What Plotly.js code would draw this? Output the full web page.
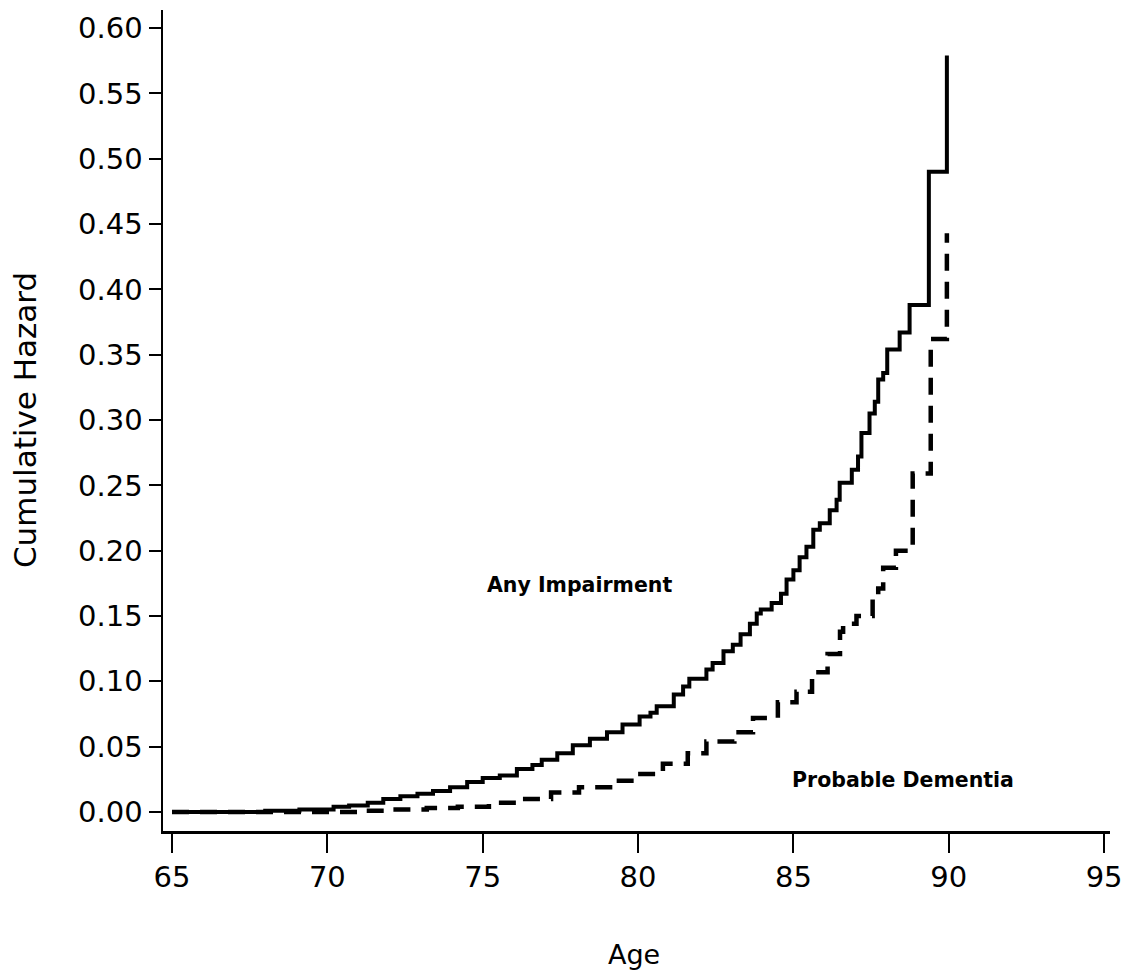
<!DOCTYPE html>
<html>
<head>
<meta charset="utf-8">
<script src="https://cdn.plot.ly/plotly-3.0.1.min.js"></script>
<style>
  html, body { margin: 0; padding: 0; background: #ffffff; }
  #chart { width: 1126px; height: 979px; }
</style>
</head>
<body>
<div id="chart"></div>
<script>
// Any Impairment – cumulative hazard (step function)
const anyAge = [65.0, 67.0, 68.0, 69.1, 70.2, 70.7, 71.3, 71.8, 72.35, 72.9, 73.4, 73.95, 74.5, 75.0, 75.55, 76.1, 76.6, 76.9, 77.4, 77.9, 78.45, 79.0, 79.5, 80.05, 80.4, 80.6, 81.15, 81.45, 81.65, 82.2, 82.4, 82.75, 83.05, 83.3, 83.6, 83.82, 83.95, 84.3, 84.6, 84.78, 85.0, 85.2, 85.42, 85.64, 85.85, 86.17, 86.39, 86.49, 86.88, 87.08, 87.19, 87.45, 87.62, 87.73, 87.89, 88.02, 88.42, 88.74, 89.36, 89.94];
const anyHaz = [0.000, 0.000, 0.001, 0.002, 0.004, 0.005, 0.007, 0.010, 0.012, 0.014, 0.016, 0.019, 0.023, 0.026, 0.028, 0.033, 0.036, 0.040, 0.045, 0.051, 0.056, 0.061, 0.067, 0.073, 0.076, 0.081, 0.090, 0.096, 0.102, 0.109, 0.114, 0.123, 0.128, 0.136, 0.144, 0.152, 0.155, 0.160, 0.167, 0.178, 0.185, 0.195, 0.203, 0.216, 0.221, 0.231, 0.239, 0.252, 0.262, 0.272, 0.290, 0.305, 0.314, 0.331, 0.336, 0.354, 0.367, 0.388, 0.490, 0.579];

// Probable Dementia – cumulative hazard (step function)
const demAge = [65.0, 68.0, 69.7, 71.0, 72.1, 73.2, 74.2, 75.2, 76.2, 77.2, 78.1, 79.1, 80.0, 80.8, 81.6, 82.2, 83.1, 83.7, 84.5, 85.1, 85.6, 86.1, 86.5, 86.6, 87.03, 87.55, 87.73, 87.89, 88.30, 88.84, 89.42, 89.94];
const demHaz = [0.000, 0.000, 0.000, 0.001, 0.002, 0.003, 0.004, 0.007, 0.010, 0.015, 0.019, 0.024, 0.029, 0.037, 0.045, 0.054, 0.061, 0.072, 0.084, 0.092, 0.107, 0.121, 0.138, 0.144, 0.150, 0.165, 0.171, 0.187, 0.200, 0.259, 0.362, 0.443];

const xTicks = [65, 70, 75, 80, 85, 90, 95];
const yTicks = [0.00, 0.05, 0.10, 0.15, 0.20, 0.25, 0.30, 0.35, 0.40, 0.45, 0.50, 0.55, 0.60];

const labelAny = "Any Impairment";
const labelDem = "Probable Dementia";
const xTitle = "Age";
const yTitle = "Cumulative Hazard";

const FONT = "DejaVu Sans, Verdana, sans-serif";

const traces = [
  {
    x: anyAge, y: anyHaz, type: "scatter", mode: "lines", name: labelAny,
    line: { color: "#000000", width: 4, shape: "hv" }
  },
  {
    x: demAge, y: demHaz, type: "scatter", mode: "lines", name: labelDem,
    line: { color: "#000000", width: 4.5, shape: "hv", dash: "17px,11px" }
  }
];

const axisCommon = {
  showgrid: false, zeroline: false, showline: true,
  linecolor: "#000000", linewidth: 2.5,
  ticks: "outside", tickcolor: "#000000", tickwidth: 2,
  tickfont: { family: FONT, size: 29, color: "#000000" },
  automargin: false
};

const layout = {
  width: 1126, height: 979,
  margin: { l: 163, r: 16, t: 10, b: 148 },
  paper_bgcolor: "#ffffff", plot_bgcolor: "#ffffff",
  showlegend: false,
  font: { family: FONT, color: "#000000" },
  xaxis: Object.assign({}, axisCommon, {
    range: [64.71, 95.19],
    tickmode: "array", tickvals: xTicks, ticktext: xTicks.map(String),
    ticklen: 19
  }),
  yaxis: Object.assign({}, axisCommon, {
    range: [-0.01454, 0.6138],
    tickmode: "array", tickvals: yTicks, ticktext: yTicks.map(v => v.toFixed(2)),
    ticklen: 12
  }),
  annotations: [
    {
      x: 0.4974, y: -0.151, xref: "paper", yref: "paper", text: xTitle, showarrow: false,
      xanchor: "center", yanchor: "middle",
      font: { family: FONT, size: 27, color: "#000000" }
    },
    {
      x: -0.1457, y: 0.5006, xref: "paper", yref: "paper", text: yTitle, showarrow: false,
      textangle: -90, xanchor: "center", yanchor: "middle",
      font: { family: FONT, size: 31, color: "#000000" }
    },
    {
      x: 78.12, y: 0.174, xref: "x", yref: "y", text: labelAny, showarrow: false,
      xanchor: "center", yanchor: "middle",
      font: { family: FONT, size: 20.5, color: "#000000", weight: "bold" }
    },
    {
      x: 88.53, y: 0.0245, xref: "x", yref: "y", text: labelDem, showarrow: false,
      xanchor: "center", yanchor: "middle",
      font: { family: FONT, size: 20.5, color: "#000000", weight: "bold" }
    }
  ]
};

Plotly.newPlot("chart", traces, layout, { staticPlot: true, displayModeBar: false });
</script>
</body>
</html>
